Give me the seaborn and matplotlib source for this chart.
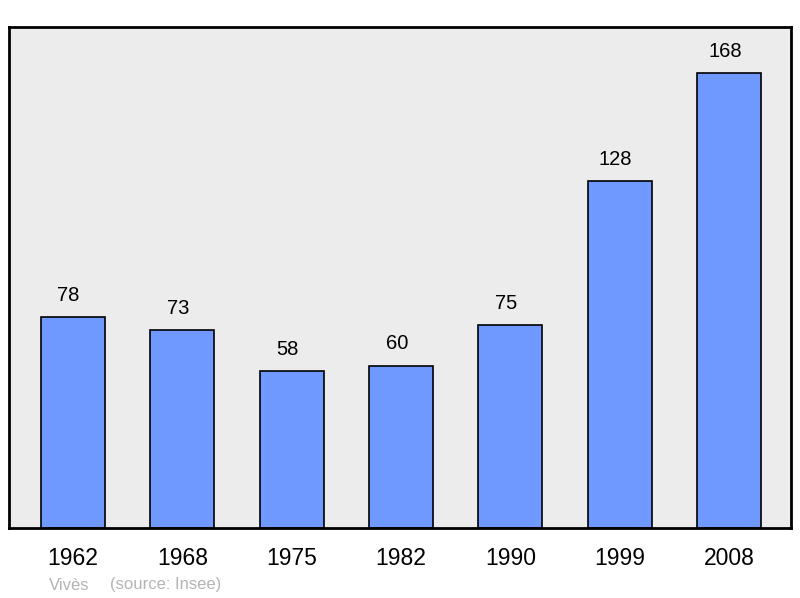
import pandas as pd
import matplotlib
matplotlib.use("Agg")
import matplotlib.pyplot as plt
import seaborn as sns

years = ["1962", "1968", "1975", "1982", "1990", "1999", "2008"]
population = [78, 73, 58, 60, 75, 128, 168]
commune = "Vivès"
source = "(source: Insee)"

df = pd.DataFrame({"year": years, "pop": population})

sns.set_style("white")
plt.rcParams["font.family"] = ["Liberation Sans", "DejaVu Sans"]

fig = plt.figure(figsize=(8, 5.98), dpi=100)
ax = fig.add_axes([9 / 800, 1 - 528 / 598, 782 / 800, 501 / 598])
ax.set_facecolor("#ececec")

sns.barplot(data=df, x="year", y="pop", color="#7099ff", saturation=1,
            width=0.585, edgecolor="black", linewidth=1.2, ax=ax)

# valeurs au-dessus des barres (légèrement décalées à gauche comme l'original)
for i, v in enumerate(population):
    ax.text(i - 0.04, v + 8, str(v), ha="center", va="center", fontsize=14.5, color="black")

ax.set_xlim(-0.585, 6.565)
ax.set_ylim(0, 185)
ax.set_yticks([])
ax.set_xlabel("")
ax.set_ylabel("")
ax.tick_params(axis="x", length=0, labelsize=16.5, pad=14, labelcolor="black")
for s in ax.spines.values():
    s.set_visible(True)
    s.set_color("black")
    s.set_linewidth(2)

fig.text(49 / 800, 1 - 585 / 598, commune, fontsize=12, color="#b4b4b4", va="center")
fig.text(110 / 800, 1 - 585 / 598, source, fontsize=12, color="#b4b4b4", va="center")

fig.savefig("out.png", dpi=100)
